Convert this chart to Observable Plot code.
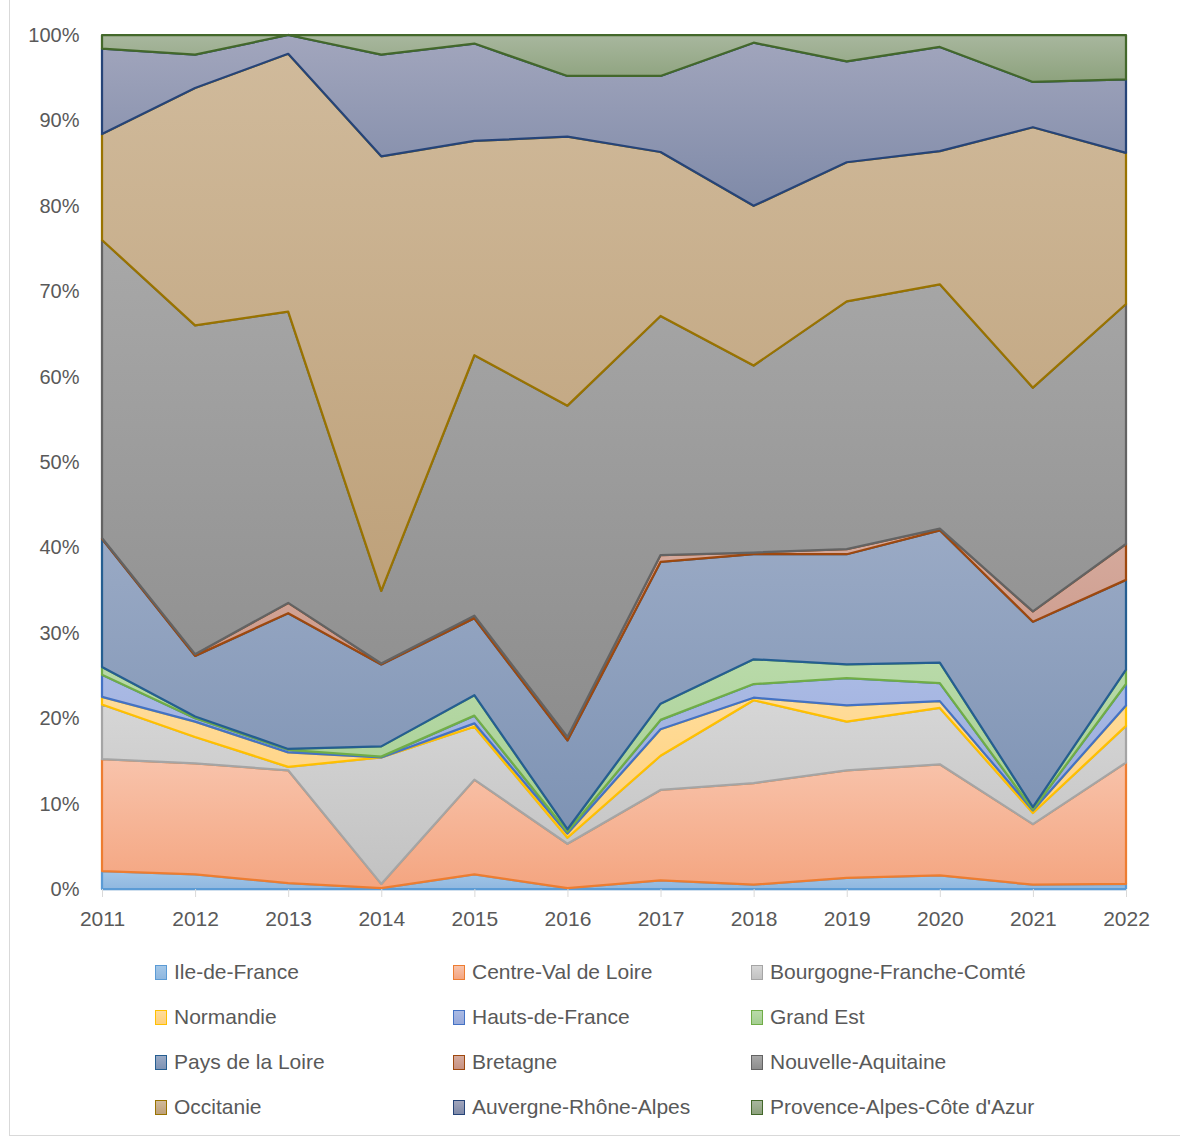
<!DOCTYPE html>
<html><head><meta charset="utf-8">
<script src="https://cdn.jsdelivr.net/npm/d3@7"></script>
<script src="https://cdn.jsdelivr.net/npm/@observablehq/plot@0.6"></script>
<style>
body{margin:0;background:#fff;font-family:"Liberation Sans",Arial,sans-serif;}
#wrap{position:relative;width:1180px;height:1138px;overflow:hidden;background:#fff;}
#chart{position:absolute;left:0;top:0;}
#border{position:absolute;left:9px;top:-5px;width:1300px;height:1140px;border-left:1px solid #d9d9d9;border-bottom:1px solid #d9d9d9;}
.leg{position:absolute;display:flex;align-items:center;font-size:21px;color:#595959;white-space:nowrap;height:30px;}
.sw{width:10px;height:13px;margin-right:7px;border:1.5px solid;box-sizing:content-box;}
</style></head><body>
<div id="wrap">
<div id="border"></div>
<svg width="0" height="0" style="position:absolute"><defs id="defs"></defs></svg>
<div id="chart"></div>
<div id="legend"></div>
</div>
<script>
const years = [2011, 2012, 2013, 2014, 2015, 2016, 2017, 2018, 2019, 2020, 2021, 2022];
const regions = ["Ile-de-France", "Centre-Val de Loire", "Bourgogne-Franche-Comté", "Normandie", "Hauts-de-France", "Grand Est", "Pays de la Loire", "Bretagne", "Nouvelle-Aquitaine", "Occitanie", "Auvergne-Rhône-Alpes", "Provence-Alpes-Côte d'Azur"];

// shares in % per year
const ileDeFrance      = [2.1, 1.7, 0.7, 0.1, 1.7, 0.1, 1.0, 0.5, 1.3, 1.6, 0.5, 0.6];
const centreValDeLoire = [13.1, 13.0, 13.2, 0.5, 11.1, 5.2, 10.6, 11.9, 12.6, 13.0, 7.1, 14.2];
const bourgogneFC      = [6.4, 3.1, 0.4, 14.8, 6.2, 0.7, 4.0, 9.7, 5.7, 6.6, 1.3, 4.3];
const normandie        = [0.9, 1.8, 1.7, 0.0, 0.4, 0.5, 3.1, 0.3, 1.9, 0.8, 0.3, 2.4];
const hautsDeFrance    = [2.6, 0.4, 0.3, 0.1, 0.9, 0.2, 1.1, 1.6, 3.2, 2.1, 0.1, 2.5];
const grandEst         = [0.9, 0.2, 0.1, 1.2, 2.4, 0.3, 1.9, 2.9, 1.6, 2.4, 0.3, 1.7];
const paysDeLaLoire    = [15.0, 7.1, 15.9, 9.6, 9.0, 10.4, 16.6, 12.3, 12.9, 15.5, 21.7, 10.5];
const bretagne         = [0.1, 0.2, 1.2, 0.1, 0.3, 0.4, 0.8, 0.2, 0.6, 0.2, 1.2, 4.2];
const nouvelleAquitaine= [34.9, 38.5, 34.1, 8.5, 30.5, 38.8, 28.0, 21.9, 29.0, 28.6, 26.2, 28.1];
const occitanie        = [12.4, 27.8, 30.2, 50.9, 25.1, 31.5, 19.2, 18.7, 16.3, 15.6, 30.5, 17.7];
const auvergneRA       = [10.0, 3.9, 2.2, 11.9, 11.4, 7.1, 8.9, 19.1, 11.8, 12.2, 5.3, 8.6];
const provenceACA      = [1.6, 2.3, 0.0, 2.3, 1.0, 4.8, 4.8, 0.9, 3.1, 1.4, 5.5, 5.2];

const series = [ileDeFrance, centreValDeLoire, bourgogneFC, normandie, hautsDeFrance, grandEst, paysDeLaLoire, bretagne, nouvelleAquitaine, occitanie, auvergneRA, provenceACA];
const yTicks = [0, 0.1, 0.2, 0.3, 0.4, 0.5, 0.6, 0.7, 0.8, 0.9, 1];

const strokeColors = ["#5b9bd5", "#ed7d31", "#a5a5a5", "#ffc000", "#4472c4", "#70ad47", "#255e91", "#9e480e", "#636363", "#997300", "#264478", "#43682b"];
const fillTop      = ["#a3c7e8", "#f8c3ab", "#d6d6d6", "#ffdc9a", "#aabae4", "#b9daa9", "#9aaac5", "#d6ab9e", "#a8a8a8", "#d0ba9b", "#a2a6bd", "#a8b79e"];
const fillBottom   = ["#8fb7df", "#f4a580", "#c2c2c2", "#ffd07a", "#97a9da", "#a4ce91", "#7e93b4", "#c79282", "#8d8d8d", "#bea17a", "#7f8aa8", "#8da27d"];

// gradients
const defs = document.getElementById("defs");
const NS = "http://www.w3.org/2000/svg";
regions.forEach((r, i) => {
  const g = document.createElementNS(NS, "linearGradient");
  g.setAttribute("id", "g" + i);
  g.setAttribute("x1", "0"); g.setAttribute("y1", "0");
  g.setAttribute("x2", "0"); g.setAttribute("y2", "1");
  [[0, fillTop[i]], [1, fillBottom[i]]].forEach(([o, c]) => {
    const s = document.createElementNS(NS, "stop");
    s.setAttribute("offset", o); s.setAttribute("stop-color", c);
    g.appendChild(s);
  });
  defs.appendChild(g);
});

const data = [];
regions.forEach((r, i) => years.forEach((y, j) => data.push({year: y, region: r, idx: i, value: series[i][j]})));

const chart = Plot.plot({
  width: 1180, height: 940,
  marginLeft: 102, marginRight: 54, marginTop: 35, marginBottom: 51,
  style: {background: "transparent", fontFamily: "'Liberation Sans', Arial, sans-serif"},
  x: {domain: [2011, 2022]},
  y: {domain: [0, 1]},
  color: {type: "identity"},
  marks: [
    Plot.ruleY([0], {stroke: "#d9d9d9", strokeWidth: 1.5}),
    Plot.areaY(data, Plot.stackY({offset: "normalize"}, {
      x: "year", y: "value", z: "region",
      fill: d => `url(#g${d.idx})`,
      stroke: d => strokeColors[d.idx],
      strokeWidth: 2.25, strokeLinejoin: "round"
    })),
    Plot.axisX({ticks: years, tickFormat: d => String(d), tickSize: 8, tickPadding: 14, stroke: "#d9d9d9", fill: "#595959", fontSize: 21, label: null}),
    Plot.axisY({ticks: yTicks, tickFormat: d3.format(".0%"), tickSize: 0, tickPadding: 23, fill: "#595959", fontSize: 20, label: null})
  ]
});
document.getElementById("chart").appendChild(chart);

// legend
const legend = document.getElementById("legend");
const colX = [155, 453, 751];
const rowY = [972, 1017, 1062, 1107];
regions.forEach((r, i) => {
  const item = document.createElement("div");
  item.className = "leg";
  item.style.left = colX[i % 3] + "px";
  item.style.top = (rowY[Math.floor(i / 3)] - 15) + "px";
  const sw = document.createElement("span");
  sw.className = "sw";
  sw.style.borderColor = strokeColors[i];
  sw.style.background = `linear-gradient(${fillTop[i]}, ${fillBottom[i]})`;
  item.appendChild(sw);
  item.appendChild(document.createTextNode(r));
  legend.appendChild(item);
});
</script>
</body></html>
